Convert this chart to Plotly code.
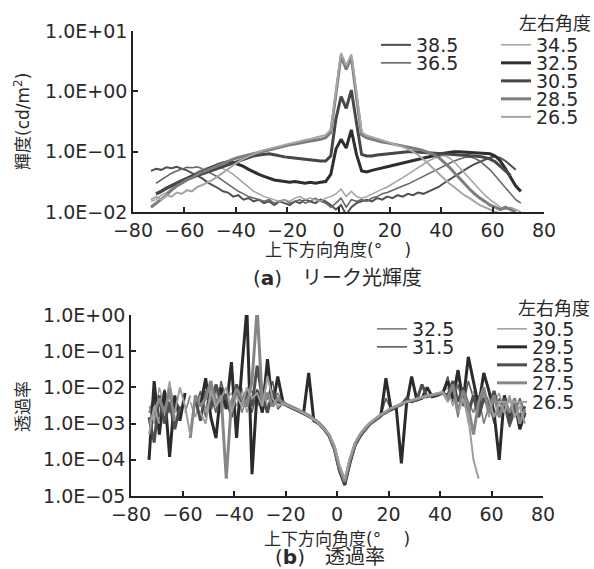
import plotly.graph_objects as go

# ---------------- data ----------------
X = [-73, -71, -69, -67, -65, -63, -61, -59, -57, -55,
     -53, -51, -49, -47, -45, -43, -41, -39, -37, -35,
     -33, -31, -29, -27, -25, -23, -21, -19, -17, -15,
     -13, -11, -9, -7, -5, -3, -1, 1, 3, 5,
     7, 9, 11, 13, 15, 17, 19, 21, 23, 25,
     27, 29, 31, 33, 35, 37, 39, 41, 43, 45,
     47, 49, 51, 53, 55, 57, 59, 61, 63, 65,
     67, 69, 71, 73]

# (a) leak luminance, cd/m2
top_names = ["38.5", "36.5", "34.5", "32.5", "30.5", "28.5", "26.5"]
lum_38_5 = [0.048, 0.052, 0.05, 0.055, 0.053, 0.056, 0.052, 0.049, 0.044, 0.04,
            0.036, 0.031, 0.028, 0.025, 0.022, 0.021, 0.018, 0.019, 0.016, 0.017,
            0.015, 0.016, 0.014, 0.015, 0.013, 0.015, 0.014, 0.013, 0.015, 0.014,
            0.016, 0.015, 0.014, 0.016, 0.015, 0.013, 0.011, 0.013, 0.009, 0.012,
            0.014, 0.015, 0.016, 0.015, 0.017, 0.016, 0.018, 0.017, 0.019, 0.018,
            0.02, 0.019, 0.021, 0.02, 0.022, 0.024, 0.026, 0.03, 0.034, 0.039,
            0.045, 0.05, 0.056, 0.062, 0.068, 0.074, 0.08, 0.083, 0.079, 0.07,
            0.06, 0.05, None, None]
lum_36_5 = [None, 0.03, 0.034, 0.038, 0.044, 0.048, 0.052, 0.055, 0.054, 0.056,
            0.052, 0.047, 0.043, 0.038, 0.033, 0.029, 0.025, 0.022, 0.02, 0.018,
            0.017, 0.016, 0.015, 0.016, 0.014, 0.015, 0.016, 0.014, 0.015, 0.016,
            0.014, 0.015, 0.017, 0.015, 0.014, 0.012, 0.014, 0.017, 0.012, 0.016,
            0.015, 0.016, 0.015, 0.017, 0.018, 0.02, 0.021, 0.023, 0.025, 0.027,
            0.029, 0.032, 0.035, 0.039, 0.043, 0.048, 0.053, 0.058, 0.064, 0.07,
            0.075, 0.08, 0.082, 0.078, 0.07, 0.06, 0.05, 0.04, 0.032, 0.025,
            0.02, 0.016, 0.014, None]
lum_34_5 = [0.015, 0.016, 0.019, 0.021, 0.024, 0.027, 0.031, 0.036, 0.041, 0.046,
            0.051, 0.055, 0.058, 0.057, 0.053, 0.048, 0.042, 0.036, 0.031, 0.026,
            0.022, 0.02, 0.018, 0.017, 0.016, 0.015, 0.016, 0.015, 0.017, 0.018,
            0.016, 0.017, 0.016, 0.015, 0.017, 0.018, 0.02, 0.024, 0.018, 0.022,
            0.018, 0.017, 0.018, 0.02, 0.022, 0.024, 0.026, 0.029, 0.033, 0.037,
            0.042, 0.048, 0.055, 0.062, 0.07, 0.077, 0.083, 0.086, 0.08, 0.068,
            0.055, 0.044, 0.035, 0.028, 0.023, 0.019, 0.016, 0.014, 0.012, 0.011,
            0.012, 0.011, 0.01, None]
lum_32_5 = [None, 0.02, 0.022, 0.025, 0.027, 0.03, 0.033, 0.036, 0.04, 0.043,
            0.047, 0.052, 0.056, 0.061, 0.065, 0.068, 0.066, 0.062, 0.057, 0.051,
            0.046, 0.042, 0.039, 0.036, 0.034, 0.033, 0.032, 0.031, 0.032, 0.031,
            0.03, 0.031, 0.03, 0.031, 0.032, 0.042, 0.11, 0.16, 0.115, 0.23,
            0.09, 0.048, 0.046, 0.049, 0.051, 0.053, 0.056, 0.059, 0.062, 0.065,
            0.068, 0.072, 0.075, 0.079, 0.083, 0.087, 0.09, 0.094, 0.097, 0.1,
            0.1, 0.099, 0.097, 0.096, 0.095, 0.094, 0.092, 0.085, 0.07, 0.052,
            0.037, 0.027, 0.022, None]
lum_30_5 = [None, 0.02, 0.022, 0.024, 0.027, 0.03, 0.032, 0.035, 0.037, 0.04,
            0.043, 0.046, 0.05, 0.053, 0.057, 0.061, 0.066, 0.07, 0.075, 0.08,
            0.085, 0.088, 0.09, 0.092, 0.089, 0.085, 0.082, 0.08, 0.078, 0.077,
            0.075, 0.074, 0.072, 0.07, 0.07, 0.085, 0.35, 0.82, 0.52, 1.05,
            0.3, 0.09, 0.085, 0.085, 0.088, 0.09, 0.092, 0.095, 0.097, 0.1,
            0.1, 0.1, 0.098, 0.097, 0.095, 0.094, 0.093, 0.092, 0.09, 0.089,
            0.088, 0.087, 0.086, 0.085, 0.083, 0.08, 0.075, 0.068, 0.058, 0.048,
            0.04, None, None, None]
lum_28_5 = [0.012, 0.014, 0.016, 0.019, 0.023, 0.027, 0.03, 0.034, 0.037, 0.042,
            0.046, 0.05, 0.055, 0.06, 0.064, 0.07, 0.075, 0.08, 0.084, 0.09,
            0.095, 0.1, 0.104, 0.11, 0.115, 0.12, 0.124, 0.13, 0.134, 0.14,
            0.145, 0.15, 0.155, 0.16, 0.17, 0.21, 0.9, 3.9, 2.3, 3.7,
            0.8, 0.19, 0.17, 0.16, 0.15, 0.145, 0.14, 0.135, 0.13, 0.125,
            0.12, 0.115, 0.11, 0.104, 0.098, 0.09, 0.08, 0.068, 0.056, 0.045,
            0.036, 0.029, 0.024, 0.02, 0.017, 0.015, 0.013, 0.012, 0.011, 0.012,
            0.011, 0.01, None, None]
lum_26_5 = [0.016, 0.018, 0.016, 0.019, 0.018, 0.021, 0.02, 0.023, 0.022, 0.026,
            0.028, 0.031, 0.034, 0.039, 0.045, 0.052, 0.06, 0.068, 0.076, 0.084,
            0.092, 0.1, 0.106, 0.112, 0.118, 0.125, 0.13, 0.136, 0.142, 0.15,
            0.156, 0.162, 0.17, 0.178, 0.19, 0.23, 1.1, 4.3, 2.7, 4.1,
            0.95, 0.21, 0.185, 0.175, 0.165, 0.155, 0.145, 0.135, 0.128, 0.12,
            0.11, 0.1, 0.088, 0.075, 0.063, 0.052, 0.043, 0.036, 0.03, 0.026,
            0.022, 0.019, 0.017, 0.015, 0.013, 0.012, 0.011, 0.01, 0.0095, None,
            None, None, None, None]
top_values = [lum_38_5, lum_36_5, lum_34_5, lum_32_5, lum_30_5, lum_28_5, lum_26_5]

# (b) transmittance
bot_names = ["32.5", "31.5", "30.5", "29.5", "28.5", "27.5", "26.5"]
tr_32_5 = [2e-3, 6e-3, 8e-4, 4e-3, 1e-2, 3e-3, None, 2e-3, 6e-3, None,
           4e-3, 2.5e-3, 1e-2, 5e-3, 2e-3, 7e-3, 3e-3, 1.2e-2, 2e-3, 5e-3,
           8e-3, 3e-3, 6e-3, 2.5e-3, 4e-3, 7e-3, 3.7e-3, 3.2e-3, 2.75e-3, 2.35e-3,
           2e-3, 1.65e-3, 1.32e-3, 1.03e-3, 7.3e-4, 4.7e-4, 2.1e-4, 6e-5, 2.4e-5, 1e-4,
           2.7e-4, 4.8e-4, 7.2e-4, 1.02e-3, 1.32e-3, 1.72e-3, 2.08e-3, 2.55e-3, 2.95e-3, 3.4e-3,
           3.9e-3, 4.3e-3, 4.7e-3, 5.2e-3, 5.7e-3, 6.1e-3, 6.7e-3, 7.2e-3, 4e-3, 8e-3,
           1.5e-3, 1e-2, 4e-3, 2e-3, 6e-3, 1e-3, 3e-3, 6e-3, 2e-3, 4e-3,
           1.5e-3, 3e-3, 1e-3, 2e-3]
tr_31_5 = [None, 4e-3, 1.5e-3, 9e-3, 2e-3, 5e-3, 2.5e-3, None, None, 3e-3,
           8e-3, 1.5e-3, 6e-3, 2e-3, 1.5e-2, 4e-3, 2e-3, 8e-3, 3e-3, 6e-3,
           2e-3, 9e-3, 3e-3, 5e-3, 1.5e-2, 2.5e-3, 3.6e-3, 3.1e-3, 2.7e-3, 2.3e-3,
           1.9e-3, 1.6e-3, 1.28e-3, 9.8e-4, 7e-4, 4.4e-4, 2e-4, 5e-5, 2.1e-5, 8.5e-5,
           2.5e-4, 4.5e-4, 7e-4, 1e-3, 1.3e-3, 1.65e-3, 5e-3, 2.45e-3, 2.85e-3, 3.3e-3,
           3.8e-3, 4.1e-3, 4.6e-3, 5e-3, 5.5e-3, 6e-3, 6.4e-3, 7e-3, 2e-2, 4e-3,
           1.2e-2, 3e-3, 1.5e-2, 5e-3, 2e-3, 8e-3, 4e-3, 1e-3, 5e-3, 3e-3,
           8e-4, 2e-3, 5e-3, 2e-3]
tr_30_5 = [3e-3, 1e-3, 1e-2, 3e-3, 1.5e-2, 2e-3, None, None, 4e-3, 1.5e-3,
           6e-3, 2e-3, 4e-3, 8e-3, 2e-3, 5e-3, 7e-3, 3e-3, 1e-2, 2e-3,
           6e-3, 4e-3, 1.2e-2, 3e-3, 6e-3, 4e-3, 3.7e-3, 3.2e-3, 2.8e-3, 2.35e-3,
           1.95e-3, 1.65e-3, 1.3e-3, 1.02e-3, 7.2e-4, 4.6e-4, 2.1e-4, 5.5e-5, 2.3e-5, 9.5e-5,
           2.7e-4, 4.8e-4, 7.3e-4, 1.02e-3, 1.32e-3, 1.7e-3, 2.05e-3, 2.55e-3, 2.95e-3, 3.4e-3,
           3.9e-3, 4.2e-3, 4.7e-3, 5.1e-3, 5.6e-3, 6.1e-3, 6.6e-3, 7.1e-3, 1e-2, 3e-3,
           2e-2, 6e-3, 1e-3, 8e-3, 3e-3, 6e-3, 1.5e-3, 4e-3, 7e-3, 2e-3,
           5e-3, 2e-3, 4e-3, 1.5e-3]
tr_29_5 = [1e-4, 1.5e-2, 5e-4, 8e-3, 1.2e-4, 6e-3, 1.2e-3, 7e-3, None, None,
           3e-3, 1.8e-2, 1.5e-3, 4e-4, 1e-2, 2.5e-3, 5e-2, 4e-4, 3e-2, 1.5,
           4e-5, 8e-3, 2e-3, 6e-2, 3e-3, 2e-2, 4e-3, 3e-3, 2.6e-3, 2.2e-3,
           1.9e-3, 2.5e-2, 1.2e-3, 1e-3, 7e-4, 4.5e-4, 2e-4, 5e-5, 2e-5, 8e-5,
           2.5e-4, 4.5e-4, 7e-4, 1e-3, 1.3e-3, 1.6e-3, 1.8e-2, 2.4e-3, 2.8e-3, 8e-5,
           3.5e-3, 2e-2, 4.5e-3, 5e-3, 1e-2, 5.5e-3, 6e-3, 7e-3, 1.5e-2, 5e-3,
           3e-2, 4e-3, 7e-2, 1.5e-2, 3e-3, 2.5e-2, 8e-3, 2e-3, 1e-4, 6e-3,
           1.5e-3, 4e-3, 7e-4, 2e-3]
tr_28_5 = [1.5e-3, 3e-4, 6e-3, 1e-3, 4e-3, 7e-4, 3e-3, None, None, 5e-3,
           1.2e-3, 8e-3, 2.5e-3, 1.2e-2, 4e-3, 6e-3, 1.5e-3, 1.2e-2, 4e-3, 8e-3,
           3e-3, 4e-2, 5e-3, 2e-3, 8e-3, 4e-3, 3.5e-3, 3.2e-3, 2.7e-3, 2.3e-3,
           1.9e-3, 1.6e-3, 1.3e-3, 1e-3, 7e-4, 4.5e-4, 2e-4, 5e-5, 2.2e-5, 9e-5,
           2.6e-4, 4.6e-4, 7e-4, 1e-3, 1.3e-3, 1.7e-3, 2e-3, 2.5e-3, 2.9e-3, 3.3e-3,
           5e-3, 4e-3, 4.5e-3, 1.2e-2, 5.5e-3, 6e-3, 6.5e-3, 7e-3, 6e-3, 1.5e-2,
           4e-3, 1e-2, 2e-3, 6e-3, 1.5e-3, 5e-3, 3e-3, 8e-3, 2e-3, 5e-3,
           1e-3, 3e-3, 1.5e-3, 3e-3]
tr_27_5 = [1e-3, 2e-3, 5e-3, 2e-3, 8e-3, 1.2e-3, None, None, 4e-4, 6e-3,
           3e-3, 5e-3, 1.5e-2, 3e-3, 6e-3, 3e-5, 4e-3, 9e-3, 5e-3, 3e-3,
           1.5e-2, 1.5, 4e-3, 7e-3, 3e-3, 5e-3, 3.8e-3, 3.3e-3, 2.8e-3, 2.4e-3,
           2e-3, 1.7e-3, 1.35e-3, 1.05e-3, 7.5e-4, 4.8e-4, 2.2e-4, 6e-5, 2.5e-5, 1e-4,
           2.8e-4, 5e-4, 7.5e-4, 1.05e-3, 1.35e-3, 1.75e-3, 2.1e-3, 2.6e-3, 3e-3, 3.5e-3,
           4e-3, 4.3e-3, 4.8e-3, 5.2e-3, 5.8e-3, 6.2e-3, 6.8e-3, 7.2e-3, 5e-3, 1.2e-2,
           2e-3, 8e-3, 3e-3, 5e-4, 4e-3, 1e-2, 2e-3, 6e-3, 1.5e-3, 4e-3,
           2e-3, 5e-3, 1e-3, 2.5e-3]
tr_26_5 = [5e-4, 3e-3, 1e-3, None, None, 2e-3, 1e-2, 3e-3, 5e-4, None,
           2e-3, 1e-3, 8e-3, 3e-3, 5e-3, 1e-2, 2e-3, 6e-3, 3e-3, 1e-2,
           5e-3, 7e-3, 3e-3, 2e-2, 5e-3, 3e-3, 3.6e-3, 3.1e-3, 2.7e-3, 2.3e-3,
           1.95e-3, 1.6e-3, 1.3e-3, 1e-3, 7e-4, 5e-4, 2.5e-4, 7e-5, 3e-5, 1.1e-4,
           3e-4, 5.3e-4, 8e-4, 1.1e-3, 1.4e-3, 1.8e-3, 2.2e-3, 2.7e-3, 3.1e-3, 3.6e-3,
           4.1e-3, 4.5e-3, 5e-3, 5.4e-3, 6e-3, 6.4e-3, 7e-3, 7.5e-3, 4e-3, None,
           2e-3, 5e-3, 1.5e-3, 1e-4, 3e-5, None, 5e-3, 1.5e-3, 4e-3, 2e-3,
           6e-3, 1.5e-3, 3e-3, 1e-3]
bot_values = [tr_32_5, tr_31_5, tr_30_5, tr_29_5, tr_28_5, tr_27_5, tr_26_5]

x_tickvals = [-80, -60, -40, -20, 0, 20, 40, 60, 80]
x_ticktext = ["\u221280", "\u221260", "\u221240", "\u221220", "0", "20", "40", "60", "80"]
top_tickvals = [0.01, 0.1, 1, 10]
top_ticktext = ["1.0E\u221202", "1.0E\u221201", "1.0E+00", "1.0E+01"]
bot_tickvals = [1e-5, 1e-4, 1e-3, 1e-2, 1e-1, 1]
bot_ticktext = ["1.0E\u221205", "1.0E\u221204", "1.0E\u221203", "1.0E\u221202", "1.0E\u221201", "1.0E+00"]

# ---------------- style ----------------
W, H = 594, 569
FONT = "DejaVu Sans, Noto Sans CJK JP"
JFONT = "Noto Sans CJK JP"
TXT = "#2a2a2a"

top_colors = ["#505050", "#686868", "#a2a2a2", "#2e2e2e", "#474747", "#7c7c7c", "#a6a6a6"]
top_widths = [2, 1.6, 1.5, 3, 3, 3, 2]
bot_colors = ["#7a7a7a", "#5c5c5c", "#9c9c9c", "#2b2b2b", "#4e4e4e", "#868686", "#9e9e9e"]
bot_widths = [1.6, 1.6, 1.5, 3, 3, 3, 2]

def px(x):
    return x / W

def py(y):
    return 1 - y / H

# legend pixel anchors (left edge x, row centre y)
top_leg_pos = [(376, 45), (376, 63), (496, 45), (496, 63), (496, 81), (496, 99), (496, 117)]
bot_leg_pos = [(372, 329), (372, 347), (492, 329), (492, 347), (492, 365), (492, 383), (492, 402)]

fig = go.Figure()
for i in range(7):
    lname = "legend" if i == 0 else f"legend{i + 1}"
    fig.add_trace(go.Scatter(x=X, y=top_values[i], mode="lines", name=top_names[i],
                             line=dict(color=top_colors[i], width=top_widths[i]),
                             xaxis="x", yaxis="y", legend=lname, connectgaps=False))
for i in range(7):
    lname = f"legend{i + 8}"
    fig.add_trace(go.Scatter(x=X, y=bot_values[i], mode="lines", name=bot_names[i],
                             line=dict(color=bot_colors[i], width=bot_widths[i]),
                             xaxis="x2", yaxis="y2", legend=lname, connectgaps=False))

layout_leg = {}
for i, (lx, ly) in enumerate(top_leg_pos + bot_leg_pos):
    key = "legend" if i == 0 else f"legend{i + 1}"
    layout_leg[key] = dict(x=px(lx), y=py(ly), xanchor="left", yanchor="middle",
                           bgcolor="rgba(0,0,0,0)", borderwidth=0, itemwidth=30,
                           font=dict(family=FONT, size=19, color=TXT))

axis_common = dict(showline=True, linecolor="#222222", linewidth=1.5, ticks="inside",
                   ticklen=5, tickwidth=1.5, tickcolor="#222222", showgrid=False,
                   zeroline=False, mirror=False, automargin=False,
                   tickfont=dict(family=FONT, size=19, color=TXT))

fig.update_layout(
    width=W, height=H, autosize=False,
    margin=dict(l=0, r=0, t=0, b=0, pad=0, autoexpand=False),
    paper_bgcolor="white", plot_bgcolor="white",
    showlegend=True,
    xaxis=dict(domain=[px(133), px(544)], range=[-80, 80], anchor="y",
               tickvals=x_tickvals, ticktext=x_ticktext, **axis_common),
    yaxis=dict(domain=[py(212), py(31)], type="log", range=[-2, 1], anchor="x",
               tickvals=top_tickvals, ticktext=top_ticktext, **axis_common),
    xaxis2=dict(domain=[px(131), px(543)], range=[-80, 80], anchor="y2",
                tickvals=x_tickvals, ticktext=x_ticktext, **axis_common),
    yaxis2=dict(domain=[py(496), py(315)], type="log", range=[-5, 0], anchor="x2",
                tickvals=bot_tickvals, ticktext=bot_ticktext, **axis_common),
    **layout_leg,
)

ann = [
    dict(text="左右角度", x=px(555), y=py(23)),
    dict(text="左右角度", x=px(554), y=py(308)),
    dict(text="上下方向角度(°\u3000 )", x=px(338), y=py(250), size=17),
    dict(text="上下方向角度(°\u3000 )", x=px(337), y=py(539), size=17),
    dict(text="(<b>a</b>)\u3000リーク光輝度", x=px(337), y=py(278), size=20),
    dict(text="(<b>b</b>)\u3000透過率", x=px(330), y=py(557), size=20),
]
for a in ann:
    fig.add_annotation(text=a["text"], x=a["x"], y=a["y"], xref="paper", yref="paper",
                       showarrow=False, xanchor="center", yanchor="middle",
                       font=dict(family=FONT, size=a.get("size", 18), color=TXT))
fig.add_annotation(text="輝度(cd/m<sup>2</sup>)", x=px(22), y=py(122), xref="paper", yref="paper",
                   showarrow=False, textangle=-90, xanchor="center", yanchor="middle",
                   font=dict(family=FONT, size=17, color=TXT))
fig.add_annotation(text="透過率", x=px(22), y=py(407), xref="paper", yref="paper",
                   showarrow=False, textangle=-90, xanchor="center", yanchor="middle",
                   font=dict(family=JFONT, size=17, color=TXT))

fig.write_html("out.html", config={"displayModeBar": False},
               post_script="document.body.style.margin='0px';document.body.style.overflow='hidden';")
